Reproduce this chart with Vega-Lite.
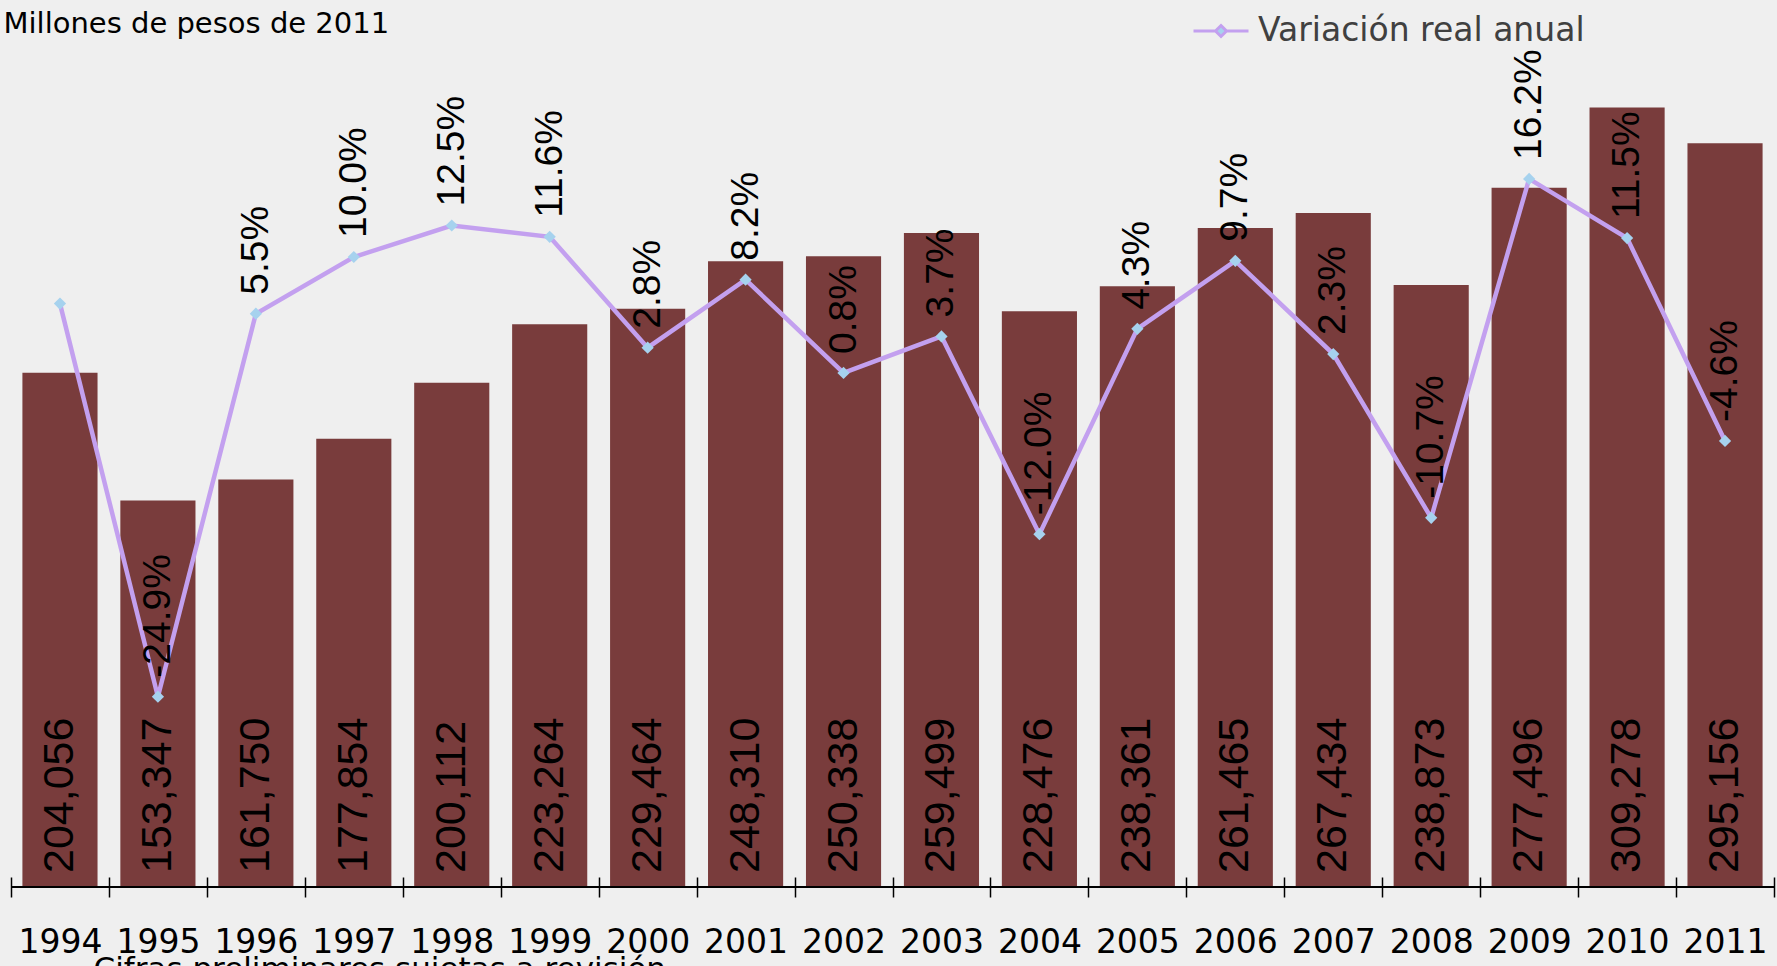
{
  "$schema": "https://vega.github.io/schema/vega-lite/v6.json",
  "width": 1763,
  "height": 882,
  "autosize": {"type": "none"},
  "padding": {"left": 11, "top": 5, "right": 3, "bottom": 79},
  "background": "#efefef",
  "config": {
    "view": {"stroke": null},
    "locale": {"number": {"decimal": ".", "thousands": ",", "grouping": [3], "currency": ["$", ""], "minus": "-"}},
    "axisX": {
      "title": "Cifras preliminares sujetas a revisión",
      "titleFont": "DejaVu Sans", "titleFontSize": 31, "titleFontWeight": "normal", "titleColor": "black",
      "titleX": 82, "titleY": 101, "titleAlign": "left", "titleBaseline": "alphabetic",
      "labelAngle": 0, "labelFont": "DejaVu Sans", "labelFontSize": 33, "labelColor": "black",
      "labelBaseline": "alphabetic", "labelPadding": 55, "labelOverlap": false,
      "tickBand": "extent", "tickSize": 20, "tickColor": "black", "tickWidth": 1.5,
      "offset": -10, "domain": false, "grid": false
    }
  },
  "data": {
    "values": [
      {"year": "1994", "value": 204056, "var": 0.063},
      {"year": "1995", "value": 153347, "var": -0.249},
      {"year": "1996", "value": 161750, "var": 0.055},
      {"year": "1997", "value": 177854, "var": 0.100},
      {"year": "1998", "value": 200112, "var": 0.125},
      {"year": "1999", "value": 223264, "var": 0.116},
      {"year": "2000", "value": 229464, "var": 0.028},
      {"year": "2001", "value": 248310, "var": 0.082},
      {"year": "2002", "value": 250338, "var": 0.008},
      {"year": "2003", "value": 259499, "var": 0.037},
      {"year": "2004", "value": 228476, "var": -0.120},
      {"year": "2005", "value": 238361, "var": 0.043},
      {"year": "2006", "value": 261465, "var": 0.097},
      {"year": "2007", "value": 267434, "var": 0.023},
      {"year": "2008", "value": 238873, "var": -0.107},
      {"year": "2009", "value": 277496, "var": 0.162},
      {"year": "2010", "value": 309278, "var": 0.115},
      {"year": "2011", "value": 295156, "var": -0.046}
    ]
  },
  "layer": [
    {
      "layer": [
        {
          "mark": {"type": "bar", "color": "#793c3c", "width": {"band": 0.767}},
          "encoding": {
            "x": {"field": "year", "type": "ordinal", "scale": {"paddingInner": 0, "paddingOuter": 0}, "title": "Cifras preliminares sujetas a revisión"},
            "y": {
              "field": "value", "type": "quantitative",
              "scale": {"domain": [0, 350000], "nice": false},
              "axis": {
                "title": "Millones de pesos de 2011",
                "labels": false, "ticks": false, "domain": false, "grid": false,
                "titleAngle": 0, "titleX": -8, "titleY": 27, "titleAlign": "left", "titleBaseline": "alphabetic",
                "titleFont": "DejaVu Sans", "titleFontSize": 29, "titleFontWeight": "normal", "titleColor": "black"
              }
            }
          }
        },
        {
          "mark": {"type": "text", "angle": 270, "align": "left", "baseline": "middle", "dx": 14, "font": "Liberation Sans", "fontSize": 43, "color": "black"},
          "encoding": {
            "x": {"field": "year", "type": "ordinal", "title": "Cifras preliminares sujetas a revisión"},
            "y": {"datum": 0, "type": "quantitative"},
            "text": {"field": "value", "type": "quantitative", "format": ","}
          }
        },
        {
          "mark": {"type": "rule", "color": "black", "strokeWidth": 2},
          "encoding": {"y": {"datum": 0, "type": "quantitative"}}
        }
      ]
    },
    {
      "layer": [
        {
          "mark": {"type": "line", "strokeWidth": 4.5},
          "encoding": {
            "x": {"field": "year", "type": "ordinal", "title": "Cifras preliminares sujetas a revisión"},
            "y": {"field": "var", "type": "quantitative", "scale": {"domain": [-0.4, 0.3], "nice": false}, "axis": null},
            "color": {
              "datum": "Variación real anual",
              "scale": {"range": ["#c3a0ef"]},
              "legend": {
                "title": null, "orient": "none", "legendX": 1181, "legendY": -3, "padding": 0,
                "symbolType": "M-1,0H-0.22M0.22,0H1M0,-0.2L0.2,0L0,0.2L-0.2,0Z",
                "symbolSize": 3025, "symbolStrokeWidth": 3,
                "labelFont": "DejaVu Sans", "labelFontSize": 33, "labelColor": "#404040", "labelOffset": 8, "labelLimit": 0,
                "encode": {"symbols": {"update": {"fill": {"value": "#a6d2ee"}, "stroke": {"value": "#c3a0ef"}, "strokeWidth": {"value": 3}}}}
              }
            }
          }
        },
        {
          "mark": {"type": "point", "shape": "diamond", "filled": true, "color": "#a6d2ee", "size": 150, "opacity": 1},
          "encoding": {
            "x": {"field": "year", "type": "ordinal", "title": "Cifras preliminares sujetas a revisión"},
            "y": {"field": "var", "type": "quantitative"}
          }
        },
        {
          "transform": [{"filter": "datum.year != '1994'"}],
          "mark": {"type": "text", "angle": 270, "align": "left", "baseline": "middle", "dx": 19, "font": "Liberation Sans", "fontSize": 39, "color": "black"},
          "encoding": {
            "x": {"field": "year", "type": "ordinal", "title": "Cifras preliminares sujetas a revisión"},
            "y": {"field": "var", "type": "quantitative"},
            "text": {"field": "var", "type": "quantitative", "format": ".1%"}
          }
        }
      ]
    }
  ],
  "resolve": {"scale": {"y": "independent"}}
}
